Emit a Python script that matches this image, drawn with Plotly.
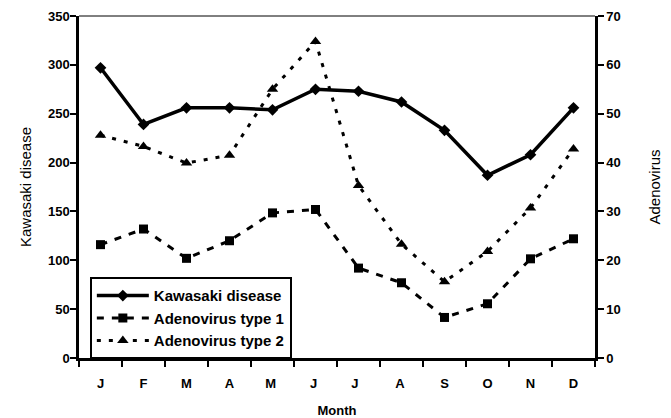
import plotly.graph_objects as go

months = ["J", "F", "M", "A", "M ", "J ", "J  ", "A ", "S", "O", "N", "D"]
kawasaki = [297, 239, 256, 256, 254, 275, 273, 262, 233, 187, 208, 256]
adeno1 = [23.2, 26.4, 20.4, 24.0, 29.7, 30.4, 18.4, 15.4, 8.3, 11.1, 20.3, 24.4]
adeno2 = [45.6, 43.3, 39.9, 41.5, 55.0, 64.8, 35.3, 23.3, 15.6, 21.8, 30.7, 42.8]

font_family = "Arial, Liberation Sans, sans-serif"

fig = go.Figure()
fig.add_trace(go.Scatter(
    x=months, y=kawasaki, name="Kawasaki disease", mode="lines+markers",
    line=dict(color="black", width=3.5),
    marker=dict(symbol="diamond", size=9, color="black"),
    yaxis="y"))
fig.add_trace(go.Scatter(
    x=months, y=adeno1, name="Adenovirus type 1", mode="lines+markers",
    line=dict(color="black", width=3, dash="7px,8px"),
    marker=dict(symbol="square", size=9, color="black"),
    yaxis="y2"))
fig.add_trace(go.Scatter(
    x=months, y=adeno2, name="Adenovirus type 2", mode="lines+markers",
    line=dict(color="black", width=3, dash="4px,8px"),
    marker=dict(symbol="triangle-up", size=10, color="black"),
    yaxis="y2"))

axis_common = dict(showgrid=False, zeroline=False, showline=True, automargin=False,
                   linecolor="black", linewidth=2.5, ticks="outside",
                   tickcolor="black", tickwidth=2, ticklen=6,
                   tickfont=dict(family=font_family, size=13, color="black", weight="bold"))

# the page body has an 8px margin, so the figure is sized to fit the window
fig.update_layout(
    width=663, height=410,
    margin=dict(l=71, r=76, t=8, b=60),
    paper_bgcolor="white", plot_bgcolor="white",
    font=dict(family=font_family, color="black"),
    xaxis=dict(type="category", tickson="boundaries", range=[-0.5, 11.5],
               ticklabelstandoff=12,
               title=dict(text="<b>Month</b>", font=dict(size=13), standoff=22),
               **axis_common),
    yaxis=dict(range=[0, 350], tickvals=list(range(0, 351, 50)),
               ticklabelstandoff=-2,
               title=dict(text="Kawasaki disease", font=dict(size=15), standoff=13),
               **axis_common),
    yaxis2=dict(range=[0, 70], tickvals=list(range(0, 71, 10)), overlaying="y", side="right",
                title=dict(text="Adenovirus", font=dict(size=15), standoff=30),
                **axis_common),
    legend=dict(x=0.021, y=0.236, xanchor="left", yanchor="top",
                bordercolor="black", borderwidth=2, bgcolor="white",
                font=dict(family=font_family, size=15, color="black", weight="bold"),
                tracegroupgap=0, itemwidth=52),
    showlegend=True,
)
fig.add_shape(type="line", xref="paper", yref="paper", x0=0, x1=1, y0=1, y1=1,
              line=dict(color="black", width=1))

fig.write_html("out.html")
